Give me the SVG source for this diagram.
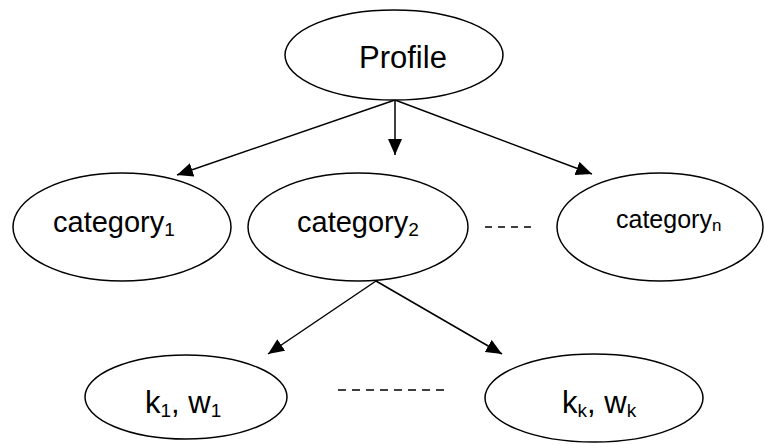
<svg xmlns="http://www.w3.org/2000/svg" width="765" height="444" viewBox="0 0 765 444">
<style>
.n{fill:#fff;stroke:#000;stroke-width:1.5}
.t{font-family:"Liberation Sans",Arial,sans-serif;fill:#000}
.c{stroke:#000;stroke-width:1.5;fill:none}
.d{stroke:#000;stroke-width:1.5;fill:none}
</style>
<defs>
<marker id="ah" markerUnits="userSpaceOnUse" markerWidth="16" markerHeight="14" refX="16" refY="7" orient="auto">
<path d="M0,0 L16,7 L0,14 z" fill="#000"/>
</marker>
</defs>
<rect width="765" height="444" fill="#fff"/>
<g id="connectors">
<line class="c" x1="395" y1="100" x2="395" y2="155" marker-end="url(#ah)"/>
<line class="c" x1="395" y1="100" x2="177" y2="175" marker-end="url(#ah)"/>
<line class="c" x1="395" y1="100" x2="592" y2="174" marker-end="url(#ah)"/>
<line class="c" x1="376" y1="281" x2="268" y2="354" marker-end="url(#ah)"/>
<line class="c" x1="376" y1="281" x2="502" y2="354" marker-end="url(#ah)"/>
<line class="d" x1="485" y1="227" x2="533" y2="227" stroke-dasharray="7 6"/>
<line class="d" x1="338" y1="390" x2="445" y2="390" stroke-dasharray="8 6"/>
</g>
<g id="profile">
<ellipse class="n" cx="394" cy="55" rx="109" ry="45"/>
<text class="t" x="359" y="68" font-size="31">Profile</text>
</g>
<g id="category1">
<ellipse class="n" cx="122" cy="227" rx="109" ry="54"/>
<text class="t" x="53" y="232" font-size="29">category<tspan font-size="19" dy="4">1</tspan></text>
</g>
<g id="category2">
<ellipse class="n" cx="358" cy="227" rx="110" ry="54"/>
<text class="t" x="297" y="232" font-size="29">category<tspan font-size="19" dy="4">2</tspan></text>
</g>
<g id="categoryn">
<ellipse class="n" cx="660" cy="227" rx="103" ry="54"/>
<text class="t" x="616" y="228" font-size="25">category<tspan font-size="17" dy="3">n</tspan></text>
</g>
<g id="k1w1">
<ellipse class="n" cx="186" cy="397" rx="101" ry="42"/>
<text class="t" x="145" y="413" font-size="31">k<tspan font-size="19" dy="4">1</tspan><tspan dy="-4">, w</tspan><tspan font-size="19" dy="4">1</tspan></text>
</g>
<g id="kkwk">
<ellipse class="n" cx="594" cy="398" rx="109" ry="44"/>
<text class="t" x="562" y="413" font-size="31">k<tspan font-size="19" dy="4">k</tspan><tspan dy="-4">, w</tspan><tspan font-size="19" dy="4">k</tspan></text>
</g>
</svg>
